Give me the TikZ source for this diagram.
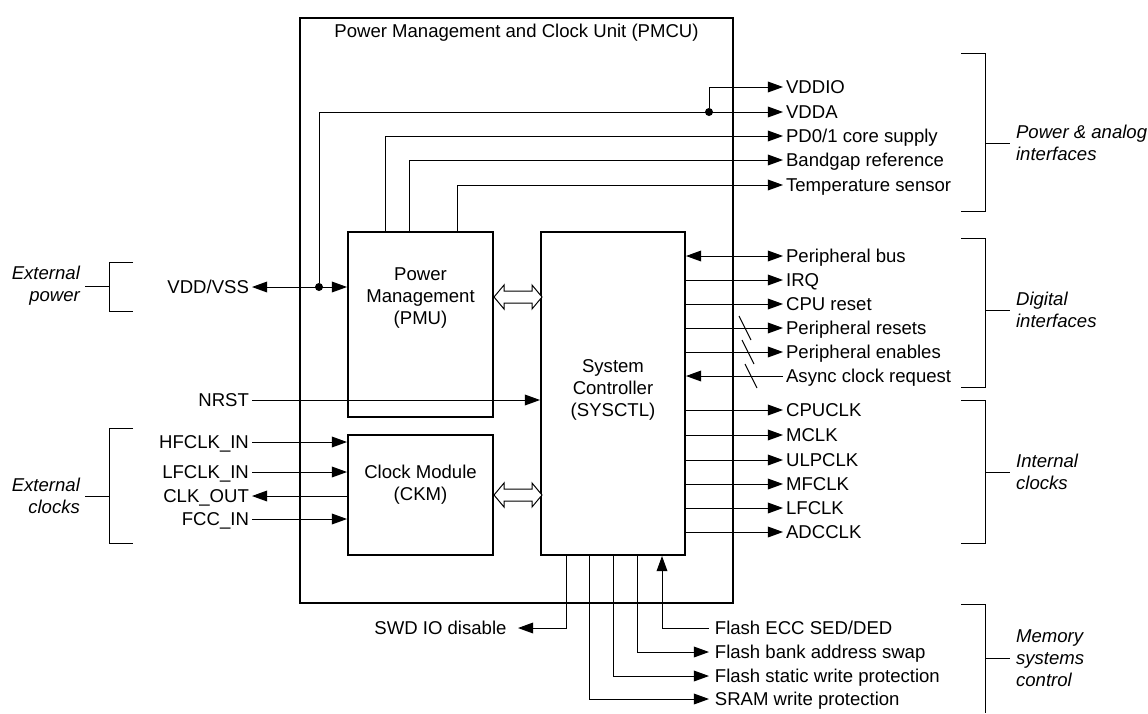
\documentclass[tikz,border=0pt]{standalone}
\usepackage{fontspec}
\setmainfont{Liberation Sans}
\usetikzlibrary{arrows.meta}

\tikzset{
  every node/.style={font=\fontsize{13.2}{15.6}\selectfont, inner sep=2pt},
  blk/.style={draw, line width=1.4pt, inner sep=0pt},
  sig/.style={text height=9.5pt, text depth=0pt},
  grp/.style={font=\fontsize{13.2}{15.6}\selectfont\itshape},
  wire/.style={line width=0.7pt},
  dot/.style={circle, fill, inner sep=0pt, minimum size=0.2cm},
  dblarrow/.pic={
    \draw[wire, fill=white] (0,0) -- ++(10,-12) -- ++(0,6) -- ++(28,0) -- ++(0,-6)
      -- ++(10,12) -- ++(-10,12) -- ++(0,-6) -- ++(-28,0) -- ++(0,6) -- cycle;
  }
}

\begin{document}
\begin{tikzpicture}[x=0.025cm, y=-0.025cm, >={Triangle[length=0.38cm,width=0.27cm]}]
  \useasboundingbox (0,0) rectangle (1148,713);

  % blocks
  \node[blk, minimum width=10.825cm, minimum height=14.625cm] (pmcu) at (516.5,310.5) {};
  \node (pmcu-txt) at (516.5,33) {Power Management and Clock Unit (PMCU)};
  \node[blk, minimum width=3.625cm, minimum height=4.625cm] (pmu) at (420.5,324.5) {};
  \node[align=center] (pmu-txt) at (420.5,298) {Power\\Management\\(PMU)};
  \node[blk, minimum width=3.6cm, minimum height=8.075cm] (sys) at (613,393.5) {};
  \node[align=center] (sys-txt) at (613,390) {System\\Controller\\(SYSCTL)};
  \node[blk, minimum width=3.625cm, minimum height=3cm] (ckm) at (420.5,495) {};
  \node[align=center] (ckm-txt) at (420.5,485) {Clock Module\\(CKM)};

  \pic at (pmu.east |- 0,297) {dblarrow};
  \pic at (ckm.east |- 0,495) {dblarrow};

  % left side
  \node[sig, anchor=east] (vddvss) at (252,287) {VDD/VSS};
  \node[sig, anchor=east] (nrst) at (252,400) {NRST};
  \node[sig, anchor=east] (hfclk) at (252,442) {HFCLK\_IN};
  \node[sig, anchor=east] (lfclk) at (252,472) {LFCLK\_IN};
  \node[sig, anchor=east] (clkout) at (252,496) {CLK\_OUT};
  \node[sig, anchor=east] (fcc) at (252,519) {FCC\_IN};

  \node[dot] (jvdd) at (319,287) {};
  \draw[wire,<->] (vddvss.east) -- (pmu.west |- vddvss.east);
  \draw[wire,->] (nrst.east) -- (sys.west |- nrst.east);
  \draw[wire,->] (hfclk.east) -- (ckm.west |- hfclk.east);
  \draw[wire,->] (lfclk.east) -- (ckm.west |- lfclk.east);
  \draw[wire,<-] (clkout.east) -- (ckm.west |- clkout.east);
  \draw[wire,->] (fcc.east) -- (ckm.west |- fcc.east);

  % power outputs
  \node[sig, anchor=west] (vddio) at (783,87) {VDDIO};
  \node[sig, anchor=west] (vdda) at (783,112) {VDDA};
  \node[sig, anchor=west] (pd) at (783,136) {PD0/1 core supply};
  \node[sig, anchor=west] (bgap) at (783,160) {Bandgap reference};
  \node[sig, anchor=west] (temp) at (783,185) {Temperature sensor};

  \node[dot] (jio) at (709,112) {};
  \draw[wire,->] (jvdd) |- (vdda.west);
  \draw[wire,->] (jio) |- (vddio.west);
  \draw[wire,->] (pmu.north -| 385,0) |- (pd.west);
  \draw[wire,->] (pmu.north -| 409,0) |- (bgap.west);
  \draw[wire,->] (pmu.north -| 457,0) |- (temp.west);

  % digital interfaces
  \node[sig, anchor=west] (pbus) at (783,256) {Peripheral bus};
  \node[sig, anchor=west] (irq) at (783,280) {IRQ};
  \node[sig, anchor=west] (cpurst) at (783,304) {CPU reset};
  \node[sig, anchor=west] (prst) at (783,328) {Peripheral resets};
  \node[sig, anchor=west] (pen) at (783,352) {Peripheral enables};
  \node[sig, anchor=west] (async) at (783,376) {Async clock request};

  \draw[wire,<->] (sys.east |- pbus.west) -- (pbus.west);
  \draw[wire,->] (sys.east |- irq.west) -- (irq.west);
  \draw[wire,->] (sys.east |- cpurst.west) -- (cpurst.west);
  \draw[wire,->] (sys.east |- prst.west) -- (prst.west);
  \draw[wire,->] (sys.east |- pen.west) -- (pen.west);
  \draw[wire,->] (async.west) -- (sys.east |- async.west);
  \draw[wire] (739,316) -- (751,340);
  \draw[wire] (742,340) -- (754,364);
  \draw[wire] (745,364) -- (757,388);

  % internal clocks
  \node[sig, anchor=west] (cpuclk) at (783,410) {CPUCLK};
  \node[sig, anchor=west] (mclk) at (783,435) {MCLK};
  \node[sig, anchor=west] (ulpclk) at (783,460) {ULPCLK};
  \node[sig, anchor=west] (mfclk) at (783,484) {MFCLK};
  \node[sig, anchor=west] (lfclko) at (783,508) {LFCLK};
  \node[sig, anchor=west] (adcclk) at (783,532) {ADCCLK};

  \draw[wire,->] (sys.east |- cpuclk.west) -- (cpuclk.west);
  \draw[wire,->] (sys.east |- mclk.west) -- (mclk.west);
  \draw[wire,->] (sys.east |- ulpclk.west) -- (ulpclk.west);
  \draw[wire,->] (sys.east |- mfclk.west) -- (mfclk.west);
  \draw[wire,->] (sys.east |- lfclko.west) -- (lfclko.west);
  \draw[wire,->] (sys.east |- adcclk.west) -- (adcclk.west);

  % memory control
  \node[sig, anchor=east, inner xsep=8pt] (swd) at (518,628) {SWD IO disable};
  \node[sig, anchor=west, inner xsep=4pt] (ecc) at (709,628) {Flash ECC SED/DED};
  \node[sig, anchor=west, inner xsep=4pt] (bank) at (709,652) {Flash bank address swap};
  \node[sig, anchor=west, inner xsep=4pt] (stat) at (709,676) {Flash static write protection};
  \node[sig, anchor=west, inner xsep=4pt] (sram) at (709,699) {SRAM write protection};

  \draw[wire,->] (sys.south -| 566,0) |- (swd.east);
  \draw[wire,->] (ecc.west) -| (sys.south -| 662,0);
  \draw[wire,->] (sys.south -| 637,0) |- (bank.west);
  \draw[wire,->] (sys.south -| 613,0) |- (stat.west);
  \draw[wire,->] (sys.south -| 589,0) |- (sram.west);

  % group brackets
  \draw[wire] (133,262) -- (109,262) -- (109,311) -- (133,311) (109,286) -- (85,286);
  \node[grp, align=right, anchor=east] (extpwr) at (83,286) {External\\power};
  \draw[wire] (133,428) -- (109,428) -- (109,543) -- (133,543) (109,496) -- (85,496);
  \node[grp, align=right, anchor=east] (extclk) at (83,496) {External\\clocks};

  \draw[wire] (961,53) -- (985,53) -- (985,211) -- (961,211) (985,143) -- (1010,143);
  \node[grp, align=left, anchor=west] (pwrif) at (1013,143) {Power \& analog\\interfaces};
  \draw[wire] (961,238) -- (985,238) -- (985,387) -- (961,387) (985,310) -- (1010,310);
  \node[grp, align=left, anchor=west] (digif) at (1013,310) {Digital\\interfaces};
  \draw[wire] (961,400) -- (985,400) -- (985,543) -- (961,543) (985,472) -- (1010,472);
  \node[grp, align=left, anchor=west] (intclk) at (1013,472) {Internal\\clocks};
  \draw[wire] (961,604) -- (985,604) -- (985,713) (985,658) -- (1010,658);
  \node[grp, align=left, anchor=west] (memctl) at (1013,658) {Memory\\systems\\control};
\end{tikzpicture}
\end{document}
